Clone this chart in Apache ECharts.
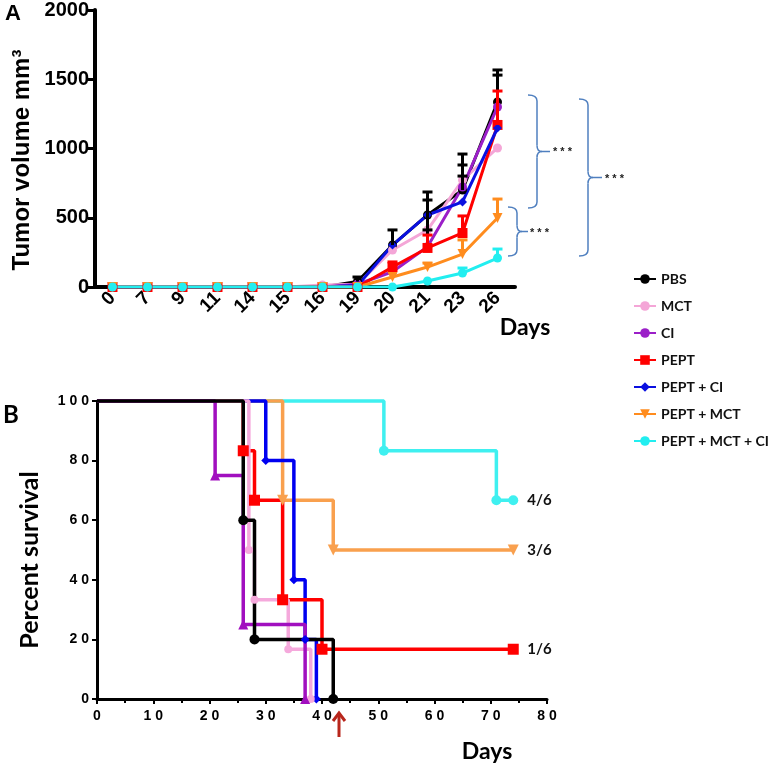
<!DOCTYPE html>
<html><head><meta charset="utf-8">
<script src="https://cdn.jsdelivr.net/npm/echarts/dist/echarts.min.js"></script>
<style>html,body{margin:0;padding:0;background:#fff}#c{width:770px;height:764px}</style>
</head><body><div id="c"></div>
<script>
// ---- Panel A data ----
const days = ['0','7','9','11','14','15','16','19','20','21','23','26'];
const groups = ['PBS','MCT','CI','PEPT','PEPT + CI','PEPT + MCT','PEPT + MCT + CI'];
const volPBS       = [0,0,0,0,0,0,0,40,303,520,700,1336];
const volMCT       = [0,0,0,0,0,0,15,20,267,412,772,1004];
const volCI        = [0,0,0,0,0,0,0,20,110,290,722,1300];
const volPEPT      = [0,0,0,0,0,0,0,0,144,282,390,1170];
const volPEPTCI    = [0,0,0,0,0,0,0,10,303,520,614,1148];
const volPEPTMCT   = [0,0,0,0,0,0,0,0,72,144,238,498];
const volPEPTMCTCI = [0,0,0,0,0,0,0,0,0,43,101,209];
// upper end of error bars (null = not drawn)
const errPBS       = [null,null,null,null,null,null,null,72,412,686,960,1567];
const errMCT       = [null,null,null,null,null,null,null,null,null,628,881,null];
const errCI        = [null,null,null,null,null,null,null,null,null,412,801,1530];
const errPEPT      = [null,null,null,null,null,null,null,null,181,375,513,1415];
const errPEPTCI    = [null,null,null,null,null,null,null,null,null,null,null,null];
const errPEPTMCT   = [null,null,null,null,null,null,null,null,null,173,340,635];
const errPEPTMCTCI = [null,null,null,null,null,null,null,null,null,null,137,274];
const volTicks = [0,500,1000,1500,2000];

// ---- Panel B data (Kaplan-Meier: [day, percent]) ----
const survPBS       = [[0,100],[26,60],[28,20],[42,0]];
const survMCT       = [[0,100],[27,50],[28,33.3],[34,16.7],[38,0]];
const survCI        = [[0,100],[21,75],[26,25],[37,0]];
const survPEPT      = [[0,100],[26,83.3],[28,66.7],[33,33.3],[40,16.7],[74,16.7]];
const survPEPTCI    = [[0,100],[30,80],[35,40],[37,20],[39,0]];
const survPEPTMCT   = [[0,100],[33,66.7],[42,50],[74,50]];
const survPEPTMCTCI = [[0,100],[51,83.3],[71,66.7],[74,66.7]];
const survivors = {'PEPT':'1/6','PEPT + MCT':'3/6','PEPT + MCT + CI':'4/6'};

const AR = 'Arial, "Liberation Sans", sans-serif';
const LA = 'Lato, "Open Sans", sans-serif';
const downTri = 'path://M0,0 L10,0 L5,10 Z';
const styleA = [
  {c:'#000000', s:'circle', sz:9},
  {c:'#f4a6d7', s:'circle', sz:9},
  {c:'#9b1fc8', s:'circle', sz:9},
  {c:'#ff0000', s:'rect', sz:10},
  {c:'#0a10e0', s:'diamond', sz:9},
  {c:'#ff8c1e', s:downTri, sz:10},
  {c:'#22eef0', s:'circle', sz:9}
];
const volData = [volPBS,volMCT,volCI,volPEPT,volPEPTCI,volPEPTMCT,volPEPTMCTCI];
const errData = [errPBS,errMCT,errCI,errPEPT,errPEPTCI,errPEPTMCT,errPEPTMCTCI];
const survData = [survPBS,survMCT,survCI,survPEPT,survPEPTCI,survPEPTMCT,survPEPTMCTCI];
const styleB = [
  {c:'#000000', s:'circle', sz:10},
  {c:'#f5a9dc', s:'circle', sz:8},
  {c:'#a10fbf', s:'triangle', sz:10},
  {c:'#ff0000', s:'rect', sz:11},
  {c:'#0000f0', s:'diamond', sz:9},
  {c:'#f9a04e', s:downTri, sz:11},
  {c:'#3ff0f0', s:'circle', sz:10}
];

const series = [];
groups.forEach((g,i)=>{
  series.push({
    name:g, type:'line', xAxisIndex:0, yAxisIndex:0, data:volData[i],
    symbol:styleA[i].s, symbolSize:styleA[i].sz, showAllSymbol:true,
    lineStyle:{color:styleA[i].c, width:3},
    itemStyle:{color:styleA[i].c}, z:3
  });
});
groups.forEach((g,i)=>{
  const d = errData[i].map((e,k)=> e==null?null:[k, volData[i][k], e]).filter(x=>x);
  if(!d.length) return;
  const col = (i===1||i===2)?'#000':styleA[i].c;
  series.push({
    name:g, type:'custom', xAxisIndex:0, yAxisIndex:0, data:d, z:4,
    renderItem:(params, api)=>{
      const p0 = api.coord([api.value(0), api.value(1)]);
      const p1 = api.coord([api.value(0), api.value(2)]);
      return {type:'group', children:[
        {type:'line', shape:{x1:p0[0],y1:p0[1],x2:p1[0],y2:p1[1]}, style:{stroke:col, lineWidth:3}},
        {type:'line', shape:{x1:p1[0]-5,y1:p1[1],x2:p1[0]+5,y2:p1[1]}, style:{stroke:col, lineWidth:3}}
      ]};
    }
  });
});
// survival: draw order bottom->top
[6,5,4,3,1,2,0].forEach(i=>{
  const g = groups[i];
  const s = {
    name:g, type:'line', xAxisIndex:1, yAxisIndex:1, data:survData[i], step:'end',
    symbol:styleB[i].s, symbolSize:(v,p)=> p.dataIndex===0?0:styleB[i].sz,
    showAllSymbol:true, clip:false,
    lineStyle:{color:styleB[i].c, width:3.5},
    itemStyle:{color:styleB[i].c}, z:2
  };
  if(survivors[g]){
    s.endLabel = {show:true, formatter:survivors[g], distance:14, color:'#111',
      fontFamily:LA, fontWeight:'bold', fontSize:15};
  }
  series.push(s);
});

const braceColor = '#4f7fbf';
function brace(xArm, xMid, yTop, yBot, tipEnd){
  const yM = (yTop+yBot)/2, r = 6;
  const st = {stroke:braceColor, lineWidth:1.5, fill:null};
  const seg = (x1,y1,x2,y2)=>({type:'line', shape:{x1,y1,x2,y2}, style:st});
  const q = (x1,y1,cx,cy,x2,y2)=>({type:'bezierCurve', shape:{x1,y1,x2,y2,cpx1:cx,cpy1:cy}, style:st});
  return {type:'group', children:[
    q(xArm,yTop, xMid,yTop, xMid,yTop+r),
    seg(xMid,yTop+r, xMid,yM-r),
    q(xMid,yM-r, xMid,yM, xMid+5,yM),
    q(xMid+5,yM, xMid,yM, xMid,yM+r),
    seg(xMid,yM+r, xMid,yBot-r),
    q(xMid,yBot-r, xMid,yBot, xArm,yBot),
    seg(xMid+5,yM, tipEnd,yM)
  ]};
}
const stars = (x,y)=>({type:'text', x:x, y:y, style:{text:'* * *', fill:'#222', fontFamily:AR, fontWeight:'bold', fontSize:11, verticalAlign:'middle'}});
const txt = (x,y,t,fam,size,rot)=>({type:'text', x:x, y:y, rotation:rot||0,
  style:{text:t, fill:'#000', fontFamily:fam, fontWeight:'bold', fontSize:size, align:'center', verticalAlign:'middle'}});

const chart = echarts.init(document.getElementById('c'), null, {renderer:'canvas'});
chart.setOption({
  animation:false,
  backgroundColor:'#fff',
  legend:{
    orient:'vertical', left:628, top:267, itemGap:13, itemWidth:22, itemHeight:12,
    data:groups,
    textStyle:{fontFamily:LA, fontWeight:'bold', fontSize:14, color:'#111'}
  },
  grid:[
    {left:95, top:10, width:420, height:277},
    {left:97, top:401, width:450, height:298}
  ],
  xAxis:[
    {type:'category', gridIndex:0, data:days, boundaryGap:true,
     axisLine:{lineStyle:{color:'#000', width:4}},
     axisTick:{alignWithLabel:true, length:5, lineStyle:{width:2,color:'#000'}},
     axisLabel:{rotate:45, margin:8, color:'#000', fontFamily:AR, fontWeight:'bold', fontSize:19},
     splitLine:{show:false}},
    {type:'value', gridIndex:1, min:0, max:80, interval:10,
     axisLine:{onZero:false, lineStyle:{color:'#000', width:3}},
     axisTick:{length:5, lineStyle:{width:2,color:'#000'}},
     minorTick:{show:true, splitNumber:2, length:4, lineStyle:{width:2,color:'#000'}},
     axisLabel:{margin:10, color:'#000', fontFamily:AR, fontWeight:'bold', fontSize:14,
       formatter:v=>String(v).split('').join(' ')},
     splitLine:{show:false}}
  ],
  yAxis:[
    {type:'value', gridIndex:0, min:volTicks[0], max:volTicks[volTicks.length-1], interval:500,
     axisLine:{show:true, lineStyle:{color:'#000', width:4}},
     axisTick:{show:true, length:7, lineStyle:{width:3,color:'#000'}},
     axisLabel:{margin:6, color:'#000', fontFamily:AR, fontWeight:'bold', fontSize:20, formatter:v=>String(v)},
     splitLine:{show:false}},
    {type:'value', gridIndex:1, min:0, max:100, interval:20,
     axisLine:{show:true, onZero:false, lineStyle:{color:'#000', width:3}},
     axisTick:{show:true, length:5, lineStyle:{width:2,color:'#000'}},
     axisLabel:{margin:8, color:'#000', fontFamily:AR, fontWeight:'bold', fontSize:14,
       formatter:v=>String(v).split('').join(' ')},
     splitLine:{show:false}}
  ],
  graphic:[
    txt(13,14,'A',AR,22),
    txt(11,415,'B',LA,24),
    txt(22,160,'Tumor volume mm³',AR,24,Math.PI/2),
    txt(30,560,'Percent survival',LA,25,Math.PI/2),
    txt(525,328,'Days',LA,23),
    txt(487,752,'Days',LA,23),
    brace(528,537,95,208,550),
    brace(508,517,207,256,528),
    brace(579,588,99,256,602),
    stars(553,152), stars(530,233), stars(605,179),
    {type:'line', shape:{x1:339,y1:737,x2:339,y2:713}, style:{stroke:'#b8261c', lineWidth:3}},
    {type:'polyline', shape:{points:[[333,721],[339,713],[345,721]]}, style:{fill:null, stroke:'#b8261c', lineWidth:3}}
  ],
  series:series
});
</script>
</body></html>
